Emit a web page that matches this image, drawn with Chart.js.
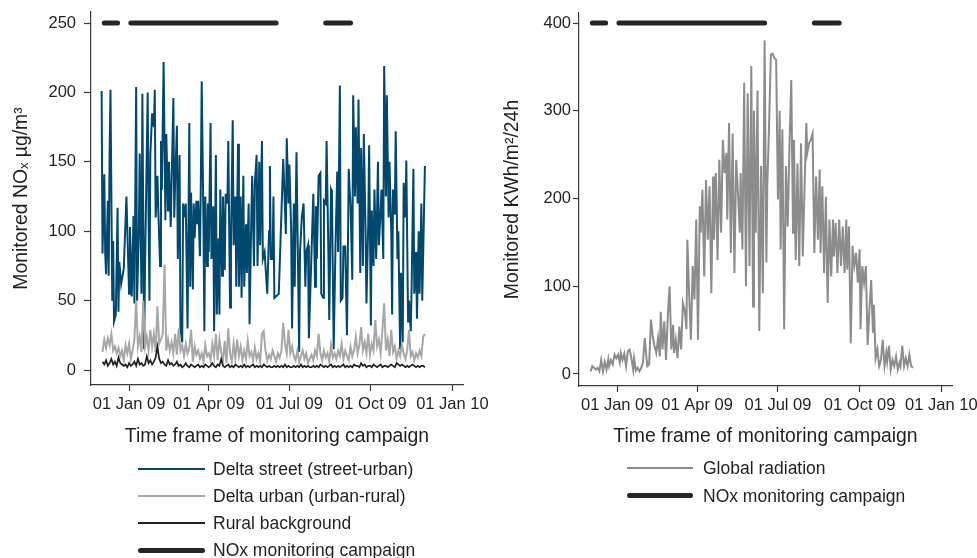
<!DOCTYPE html>
<html><head><meta charset="utf-8">
<script src="https://cdn.jsdelivr.net/npm/chart.js@4.4.1/dist/chart.umd.min.js"></script>
<style>
html,body{margin:0;padding:0;background:#fff;width:977px;height:558px;overflow:hidden;font-family:"Liberation Sans",Arial,sans-serif;color:#231f20}
canvas{position:absolute;top:0}
#c1{left:0}
#c2{left:490px}
.lt{position:absolute;font-size:17.5px;line-height:20px;white-space:nowrap}
.sw{position:absolute}
</style></head><body>
<canvas id="c1" width="500" height="460"></canvas>
<canvas id="c2" width="487" height="460"></canvas>
<div id="legends"></div>
<script>
// ---------- data (x = days since 01 Jan 2009) ----------
const xTickDays = [0, 90, 181, 273, 365];
const xTickLabels = ["01 Jan 09", "01 Apr 09", "01 Jul 09", "01 Oct 09", "01 Jan 10"];
const noxTicks = [0, 50, 100, 150, 200, 250];
const radTicks = [0, 100, 200, 300, 400];

const campaignStart = [-28, 2, 222];
const campaignEnd = [-13, 166, 250];

const streetDays = [-31,-30,-28,-27,-26,-24,-23,-22,-21,-19,-18,-17,-15,-13,-12,-11,-9,-6,-3,0,
1,3,5,6,8,9,11,12,14,15,17,18,21,22,23,24,26,28,29,30,
32,33,35,36,37,39,41,42,44,45,47,48,50,51,52,54,55,57,58,60,
61,63,64,66,68,69,70,72,73,74,76,77,78,80,81,82,84,85,86,88,
89,90,92,93,95,96,98,99,101,102,103,105,106,108,109,111,112,114,115,117,
118,120,121,123,124,126,127,129,130,132,133,135,136,138,139,141,142,144,145,147,
148,150,151,153,154,156,158,159,160,162,163,164,169,174,175,177,178,180,181,183,
184,186,187,189,190,192,193,195,197,199,200,202,203,208,210,211,212,214,216,217,
219,220,222,223,225,226,228,229,231,233,235,236,238,239,241,242,244,246,248,249,
250,252,253,255,256,258,259,261,262,264,265,267,268,270,271,273,274,276,277,279,
281,282,284,285,287,288,290,291,293,294,296,297,298,300,301,303,304,306,307,309,
310,312,313,315,316,318,319,321,322,324,325,327,328,330,331,334];
const streetValues = [201,84,141,85,69,122,68,158,202,50,93,35,40,117,42,78,62,73,125,55,
103,53,111,48,204,50,100,156,55,199,15,75,200,110,50,155,185,175,202,110,
140,115,75,165,130,222,108,170,115,150,103,135,196,110,135,176,80,155,30,20,
120,110,120,30,178,60,128,58,120,95,122,105,122,82,135,208,105,28,125,75,
120,85,178,80,118,28,155,40,95,40,130,68,125,72,127,120,165,45,90,180,
90,125,60,163,60,125,52,140,60,105,70,120,33,110,140,75,135,155,75,150,
90,165,80,85,75,55,100,147,80,80,125,52,55,152,135,98,167,120,148,100,
30,120,60,157,110,13,85,110,120,60,85,90,23,127,60,118,80,140,142,55,
52,122,120,165,85,36,130,128,15,88,143,85,205,50,52,89,89,25,145,130,
120,65,198,125,175,120,195,70,160,75,170,100,48,105,162,32,115,75,130,80,
150,90,115,130,80,219,125,198,110,150,100,40,130,112,172,80,100,15,70,20,
135,110,151,35,50,28,60,145,55,85,37,100,55,120,50,147];

// grey / black series: one reading every second day (-30 .. 334)
const gridStartDay = -30, gridStepDays = 2;
const urbanValues = [13,22,16,23,18,26,14,17,12,16,
10,14,7,18,12,19,8,14,22,50,
17,24,13,50,17,24,14,29,17,26,
13,46,19,22,26,76,14,22,14,20,
12,26,11,30,14,18,10,19,12,16,
29,6,17,11,14,8,12,6,18,10,
12,7,19,10,26,7,22,13,7,21,
5,30,12,6,19,8,22,10,17,7,
14,8,21,10,13,7,16,8,12,6,
26,28,14,7,11,8,14,10,6,12,
9,14,34,19,12,29,12,17,10,7,
14,6,10,14,8,12,5,8,11,7,
14,10,26,12,7,14,9,12,6,18,
9,12,8,14,10,19,8,14,10,7,
17,10,14,24,12,18,31,14,20,12,
26,11,19,14,36,17,22,12,29,48,
14,22,10,29,13,17,8,14,10,18,
12,8,14,29,10,13,7,12,9,14,
10,24,26];
const ruralValues = [6,4,7,3,5,8,4,6,3,9,5,4,3,4,2,5,3,4,6,3,
8,4,5,3,4,10,5,7,4,6,9,17,8,5,6,4,3,7,4,5,
3,4,6,3,4,2,3,5,3,2,4,3,2,3,4,2,3,2,4,3,
2,3,5,3,2,4,3,8,3,2,3,4,2,3,2,4,3,2,3,2,
4,2,3,2,3,4,2,3,2,3,2,4,3,2,3,2,2,3,2,3,
2,3,2,4,2,3,2,2,3,2,3,2,4,2,3,2,3,2,2,3,
2,3,2,4,3,2,3,2,3,4,2,3,2,3,2,3,4,2,3,2,
3,2,4,3,3,2,5,3,4,2,3,3,2,4,3,2,3,4,2,3,
3,2,3,4,3,2,5,4,3,4,3,2,3,2,3,4,3,2,3,2,3,3,2];

const radDays = [-30,-28,-25,-24,-22,-20,-18,-16,-14,-12,
-10,-9,-7,-5,-3,-1,1,3,4,6,
8,10,12,14,16,18,19,21,23,25,
27,29,31,33,34,36,38,40,42,44,
46,48,49,51,53,55,57,59,61,63,
64,66,68,70,72,74,76,78,79,81,
83,85,87,89,91,93,94,96,98,100,
102,104,106,108,109,111,113,115,117,119,
121,123,124,126,128,130,132,134,136,138,
139,141,143,145,147,149,151,153,154,156,
158,160,162,164,166,168,169,171,173,175,
177,179,181,183,184,186,188,190,192,194,
196,198,199,201,203,205,207,209,211,213,
214,216,218,220,222,224,226,228,229,231,
233,235,237,239,241,243,244,246,248,250,
252,254,256,258,259,261,263,265,267,269,
271,273,274,276,278,280,282,284,286,288,
289,291,293,295,297,299,301,303,304,306,
308,310,312,314,316,318,319,321,323,325,
327,329,331,333];
const radValues = [3,9,6,5,7,3,16,3,14,5,
17,9,16,11,22,18,22,13,24,16,
23,9,26,28,18,5,18,4,7,3,
7,13,41,18,9,11,62,43,32,24,
41,20,71,28,60,16,66,100,28,56,
24,39,18,54,28,81,73,51,153,92,
39,123,85,176,39,191,161,210,111,221,
153,214,92,225,153,229,130,244,161,267,
229,252,176,286,138,274,115,244,206,161,
229,142,332,100,320,123,351,77,300,161,
323,49,237,92,380,127,214,282,364,365,
360,358,199,300,142,279,51,237,168,260,
335,161,267,130,240,123,263,134,214,286,
252,263,267,274,138,225,153,233,138,214,
115,202,81,176,111,176,134,172,115,176,
123,168,115,176,119,168,35,146,123,138,
104,142,51,123,104,123,33,73,107,47,
79,18,28,9,16,39,9,24,14,32,
5,16,9,20,5,13,9,32,9,18,
9,22,9,7];

const noxSeriesNames = ["Delta street (street-urban)", "Delta urban (urban-rural)", "Rural background", "NOx monitoring campaign"];
const radSeriesNames = ["Global radiation", "NOx monitoring campaign"];

// ---------- styling ----------
const C_STREET = "#00486e", C_URBAN = "#a7a7a9", C_RURAL = "#231f20", C_CAMP = "#262626", C_RAD = "#8c8c8c";
const AXIS = "#3a3a3a", TXT = "#231f20";
const FONT = "'Liberation Sans', Arial, sans-serif";

function pairs(xs, ys) { return xs.map((x, i) => ({x: x, y: ys[i]})); }
function gridPairs(ys) { return ys.map((y, i) => ({x: gridStartDay + gridStepDays * i, y: y})); }
function campaignPoints(level) {
  const pts = [];
  campaignStart.forEach((s, i) => {
    pts.push({x: s, y: level}, {x: campaignEnd[i], y: level}, {x: campaignEnd[i] + 1, y: null});
  });
  return pts;
}

function xScale(h) {
  return {
    type: "linear", min: -43, max: 377,
    afterBuildTicks: s => { s.ticks = xTickDays.map(v => ({value: v})); },
    afterFit: s => { s.height = h; s.paddingLeft = 0; s.paddingRight = 0; },
    grid: {display: true, drawOnChartArea: false, drawTicks: true, tickLength: 6, tickColor: AXIS, tickWidth: 1.2},
    border: {display: true, color: AXIS, width: 1.2},
    ticks: {autoSkip: false, maxRotation: 0, padding: 4, color: TXT, font: {family: FONT, size: 16.5},
      callback: (v, i) => xTickLabels[i]},
    title: {display: true, text: "Time frame of monitoring campaign", color: TXT, font: {family: FONT, size: 19.4}, padding: {top: 0, bottom: 12}}
  };
}
function yScale(min, max, ticks, w, title, tickLen, pad, tpad) {
  return {
    type: "linear", min: min, max: max,
    afterBuildTicks: s => { s.ticks = ticks.map(v => ({value: v})); },
    afterFit: s => { s.width = w; s.paddingTop = 0; s.paddingBottom = 0; },
    grid: {display: true, drawOnChartArea: false, drawTicks: true, tickLength: tickLen, tickColor: AXIS, tickWidth: 1.2},
    border: {display: true, color: AXIS, width: 1.2},
    ticks: {padding: pad, color: TXT, font: {family: FONT, size: 16.5}},
    title: {display: true, text: title, color: TXT, font: {family: FONT, size: 19.4}, padding: {top: tpad, bottom: 0}}
  };
}
const common = {
  responsive: false, animation: false, events: [],
  plugins: {legend: {display: false}, tooltip: {enabled: false}},
  elements: {point: {radius: 0}, line: {tension: 0}}
};

new Chart(document.getElementById("c1"), {
  type: "line",
  data: {datasets: [
    {label: noxSeriesNames[0], data: pairs(streetDays, streetValues), borderColor: C_STREET, borderWidth: 2, order: 4},
    {label: noxSeriesNames[1], data: gridPairs(urbanValues), borderColor: C_URBAN, borderWidth: 2, order: 3},
    {label: noxSeriesNames[2], data: gridPairs(ruralValues), borderColor: C_RURAL, borderWidth: 1.7, order: 2},
    {label: noxSeriesNames[3], data: campaignPoints(250), borderColor: C_CAMP, borderWidth: 5, borderCapStyle: "round", order: 1}
  ]},
  options: Object.assign({}, common, {
    layout: {padding: {left: 0, right: 37, top: 12, bottom: 0}},
    scales: {x: xScale(75), y: yScale(-10.8, 258, noxTicks, 91, "Monitored NO\u2093 \u00b5g/m\u00b3", 7, 8, 10)}
  })
});

new Chart(document.getElementById("c2"), {
  type: "line",
  data: {datasets: [
    {label: radSeriesNames[0], data: pairs(radDays, radValues), borderColor: C_RAD, borderWidth: 2, order: 2},
    {label: radSeriesNames[1], data: campaignPoints(400), borderColor: C_CAMP, borderWidth: 5, borderCapStyle: "round", order: 1}
  ]},
  options: Object.assign({}, common, {
    layout: {padding: {left: 0, right: 25, top: 13, bottom: 0}},
    scales: {x: xScale(74), y: yScale(-13.7, 411.4, radTicks, 89, "Monitored KWh/m\u00b2/24h", 6, 2, 11)}
  })
});

// ---------- legends (HTML) ----------
function legend(names, colors, widths, x0, x1, tx, y0, dy) {
  const host = document.getElementById("legends");
  names.forEach((n, i) => {
    const cy = y0 + dy * i;
    const sw = document.createElement("div");
    sw.className = "sw";
    sw.style.cssText = `left:${x0}px;top:${cy - widths[i] / 2}px;width:${x1 - x0}px;height:${widths[i]}px;background:${colors[i]};border-radius:${widths[i] > 3 ? widths[i] / 2 : 0}px`;
    host.appendChild(sw);
    const t = document.createElement("div");
    t.className = "lt";
    t.style.left = tx + "px";
    t.style.top = (cy - 10) + "px";
    t.textContent = n;
    host.appendChild(t);
  });
}
legend(noxSeriesNames, [C_STREET, C_URBAN, C_RURAL, C_CAMP], [2, 2, 1.7, 5], 138, 205, 213, 469, 27);
legend(radSeriesNames, [C_RAD, C_CAMP], [2, 5], 627, 693, 703, 468, 27.5);
</script>
</body></html>
